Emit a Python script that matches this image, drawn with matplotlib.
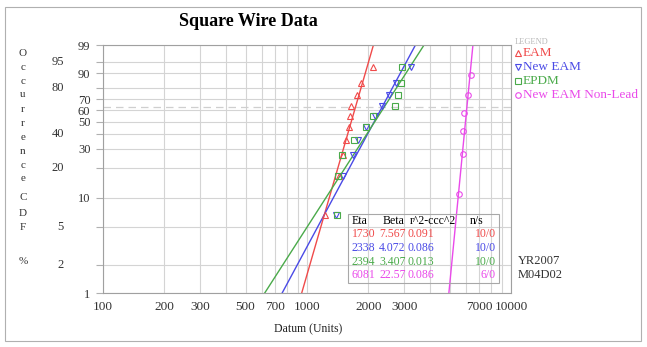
import numpy as np
import matplotlib
matplotlib.use('Agg')
import matplotlib.pyplot as plt
from matplotlib.patches import Rectangle
import matplotlib.transforms as mtransforms

plt.rcParams['font.family'] = ['Liberation Serif', 'DejaVu Serif']

W, H = 647, 347

# --- data ---
names = ['EAM', 'New EAM', 'EPDM', 'New EAM Non-Lead']
colors = ['#f04a4a', '#4a4ae6', '#4aaa4a', '#ea4aea']
markers = ['^', 'v', 's', 'o']

# fit parameters from the table
eta = [1730, 2338, 2394, 6081]
beta = [7.567, 4.072, 3.407, 22.57]
r2 = ['0.091', '0.086', '0.013', '0.086']
ns = ['10/0', '10/0', '10/0', '6/0']

# plotted points (occurrence CDF %)
eam_x = [1225, 1434, 1502, 1553, 1607, 1620, 1643, 1758, 1840, 2106]
eam_y = [6.7, 16.4, 26.0, 35.6, 45.2, 54.8, 64.4, 74.0, 83.7, 93.3]
new_x = [1388, 1503, 1680, 1778, 1946, 2155, 2333, 2523, 2731, 3235]
new_y = [6.7, 16.4, 26.0, 35.6, 45.2, 54.8, 64.4, 74.0, 83.7, 93.3]
epdm_x = [1403, 1419, 1485, 1700, 1946, 2107, 2700, 2793, 2890, 2923]
epdm_y = [6.7, 16.4, 26.0, 35.6, 45.2, 54.8, 64.4, 74.0, 83.7, 93.3]
nl_x = [5559, 5817, 5817, 5886, 6152, 6368]
nl_y = [10.9, 26.6, 42.2, 57.8, 73.4, 89.1]

pts_x = [eam_x, new_x, epdm_x, nl_x]
pts_y = [eam_y, new_y, epdm_y, nl_y]

y_ticks = [1, 2, 5, 10, 20, 30, 40, 50, 60, 70, 80, 90, 95, 99]
y_right_labels = [1, 10, 30, 50, 60, 70, 90, 99]
y_left_labels = [2, 5, 20, 40, 80, 95]
x_ticks = [100, 200, 300, 500, 700, 1000, 2000, 3000, 7000, 10000]
x_grid = list(range(100, 1000, 100)) + list(range(1000, 10001, 1000))


def weib(p):
    p = np.clip(np.asarray(p, dtype=float), 1e-6, 100 - 1e-6)
    return np.log(-np.log(1 - p / 100.0))


def weib_inv(w):
    return 100.0 * (1 - np.exp(-np.exp(np.asarray(w, dtype=float))))


def fx(px):
    return px / W


def fy(py):
    return 1 - py / H


fig = plt.figure(figsize=(W / 100, H / 100), dpi=100)
ax = fig.add_axes([fx(103), fy(293), (511 - 103) / W, (293 - 45) / H])
ax.set_xscale('log')
ax.set_yscale('function', functions=(weib, weib_inv))
ax.set_xlim(100, 10000)
ax.set_ylim(1, 99)

# grid
for gx in x_grid:
    ax.axvline(gx, color='#d4d4d4', lw=0.8, zorder=0)
for gy in y_ticks:
    ax.axhline(gy, color='#d4d4d4', lw=0.8, zorder=0)
ax.axhline(63.2, color='#cfcfcf', lw=0.9, ls=(0, (6, 4)), zorder=0)

# fitted lines and points
for i in range(4):
    F = np.array([1.0, 99.0])
    xl = eta[i] * (-np.log(1 - F / 100)) ** (1 / beta[i])
    ax.plot(xl, F, color=colors[i], lw=1.0, zorder=2)
    ax.plot(pts_x[i], pts_y[i], ls='none', marker=markers[i], ms=4,
            mfc='none', mec=colors[i], mew=0.8, zorder=3)

for s in ax.spines.values():
    s.set_color('#a0a0a0')
    s.set_linewidth(0.8)

ax.set_xticks(x_ticks)
ax.set_xticklabels([str(v) for v in x_ticks])
ax.xaxis.set_minor_locator(matplotlib.ticker.NullLocator())
ax.tick_params(axis='x', length=0, pad=6, labelsize=9.5, colors='#333333')

ax.set_yticks(y_ticks)
ax.set_yticklabels([str(v) if v in y_right_labels else '' for v in y_ticks])
ax.yaxis.set_minor_locator(matplotlib.ticker.NullLocator())
ax.tick_params(axis='y', length=5, pad=4, labelsize=9, colors='#333333',
               color='#b0b0b0')
trans = mtransforms.blended_transform_factory(ax.transAxes, ax.transData)
for v in y_left_labels:
    ax.text((64 - 103) / 408, v, str(v), transform=trans, ha='right',
            va='center', fontsize=9, color='#333333')

# title and axis label
fig.text(fx(248), fy(22), 'Square Wire Data', ha='center', va='center',
         fontsize=13, fontweight='bold')
fig.text(fx(308), fy(329), 'Datum (Units)', ha='center', va='center',
         fontsize=8.5, color='#222222')

# vertical stacked y label
letters = list('Occurrence') + list('CDF') + ['%']
letter_y = [53, 67, 81, 95, 109, 123, 137, 151, 165, 179, 198, 213, 228, 262]
for ch, yy in zip(letters, letter_y):
    fig.text(fx(23), fy(yy), ch, ha='center', va='center', fontsize=8,
             color='#333333')

# legend
fig.text(fx(515), fy(42), 'LEGEND', ha='left', va='center', fontsize=6,
         color='#b8b8b8')
leg_y = [53, 67, 81, 95]
for i in range(4):
    fig.lines.append(plt.Line2D([fx(518)], [fy(leg_y[i])], marker=markers[i],
                                ms=4, mfc='none', mec=colors[i], mew=0.8,
                                transform=fig.transFigure))
    fig.text(fx(523), fy(leg_y[i]), names[i], ha='left', va='center',
             fontsize=9.5, color=colors[i])

# parameter table
fig.patches.append(Rectangle((fx(348), fy(283)), (499 - 348) / W, (283 - 214) / H,
                             transform=fig.transFigure, fill=False,
                             ec='#a8a8a8', lw=0.8))
tfs = 8.5
hdr_y = 221
fig.text(fx(352), fy(hdr_y), 'Eta', fontsize=tfs, va='center')
fig.text(fx(383), fy(hdr_y), 'Beta', fontsize=tfs, va='center')
fig.text(fx(410), fy(hdr_y), 'r^2-ccc^2', fontsize=tfs, va='center')
fig.text(fx(470), fy(hdr_y), 'n/s', fontsize=tfs, va='center')
row_y = [234, 248, 262, 275]
for i in range(4):
    fig.text(fx(352), fy(row_y[i]), str(eta[i]), fontsize=tfs, va='center',
             color=colors[i])
    fig.text(fx(379), fy(row_y[i]), str(beta[i]), fontsize=tfs, va='center',
             color=colors[i])
    fig.text(fx(408), fy(row_y[i]), r2[i], fontsize=tfs, va='center',
             color=colors[i])
    fig.text(fx(496), fy(row_y[i]), ns[i], fontsize=tfs, va='center',
             ha='right', color=colors[i])

fig.text(fx(518), fy(261), 'YR2007', fontsize=9, va='center', color='#333333')
fig.text(fx(518), fy(275), 'M04D02', fontsize=9, va='center', color='#333333')

# outer frame
fig.patches.append(Rectangle((fx(5), fy(341)), (641 - 5) / W, (341 - 7) / H,
                             transform=fig.transFigure, fill=False,
                             ec='#b0b0b0', lw=0.8))

fig.savefig('out.png', dpi=100)
